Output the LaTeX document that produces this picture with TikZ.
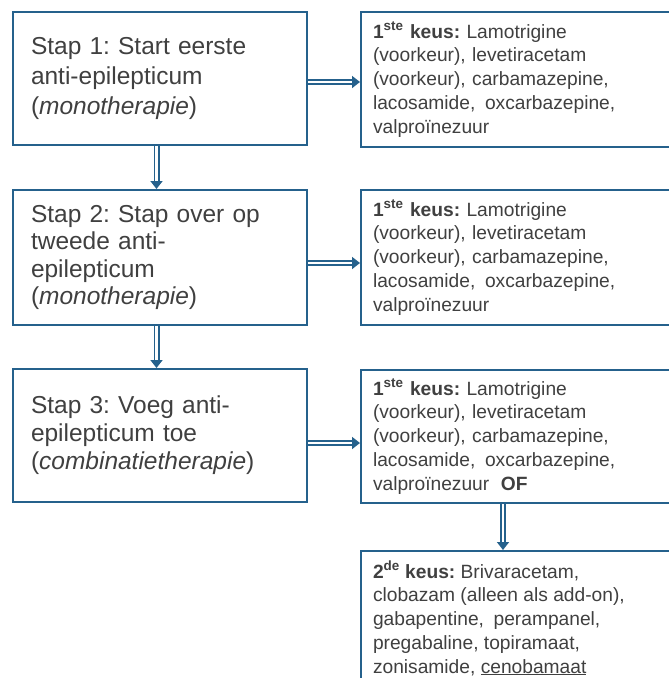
\documentclass[tikz,border=0pt]{standalone}
\usepackage{fontspec}
\setmainfont{Liberation Sans}
\usetikzlibrary{arrows.meta}
\definecolor{boxblue}{HTML}{25618C}
\definecolor{txtgray}{HTML}{404040}
\begin{document}
\frenchspacing
\begin{tikzpicture}[x=1pt,y=-1pt,
  stepbox/.style={draw=boxblue, line width=2pt, fill=white, rectangle, anchor=north west,
    inner xsep=18pt, inner ysep=0pt, text=txtgray, align=left, text width=258pt},
  choicebox/.style={draw=boxblue, line width=2pt, fill=white, rectangle, anchor=north west,
    inner xsep=12pt, inner ysep=0pt, text=txtgray, align=left, text width=300pt,
    font=\fontsize{19.2}{23.7}\selectfont},
  dblarrow/.style={draw=boxblue, double=white, double distance=2.6pt, line width=1.7pt,
    -{Triangle[length=8pt,width=12pt]}}]
\useasboundingbox (0,0) rectangle (669,678);
\clip (0,0) rectangle (669,678);
\fill[white] (0,0) rectangle (669,678);

\node[stepbox, minimum height=133pt, font=\fontsize{24.5}{30}\selectfont] (s1) at (12,11)
  {Stap 1: Start eerste\\anti-epilepticum\\(\textit{monotherapie})};
\node[stepbox, minimum height=135pt, font=\fontsize{24.5}{27.5}\selectfont] (s2) at (12,189)
  {Stap 2: Stap over op\\tweede anti-\\epilepticum\\(\textit{monotherapie})};
\node[stepbox, minimum height=133pt, font=\fontsize{24.5}{28}\selectfont] (s3) at (12,368)
  {Stap 3: Voeg anti-\\epilepticum toe\\(\textit{combinatietherapie})};

\node[choicebox, minimum height=135pt] (c1) at (360,11)
  {\textbf{1\textsuperscript{ste} keus:} Lamotrigine\\(voorkeur), levetiracetam\\(voorkeur), carbamazepine,\\lacosamide,\hspace{0.5em}oxcarbazepine,\\valproïnezuur};
\node[choicebox, minimum height=135pt] (c2) at (360,189)
  {\textbf{1\textsuperscript{ste} keus:} Lamotrigine\\(voorkeur), levetiracetam\\(voorkeur), carbamazepine,\\lacosamide,\hspace{0.5em}oxcarbazepine,\\valproïnezuur};
\node[choicebox, minimum height=133pt] (c3) at (360,369)
  {\textbf{1\textsuperscript{ste} keus:} Lamotrigine\\(voorkeur), levetiracetam\\(voorkeur), carbamazepine,\\lacosamide,\hspace{0.5em}oxcarbazepine,\\valproïnezuur\hspace{0.6em}\textbf{OF}};
\node[choicebox, text width=, inner xsep=12pt] (c4) at (360,550)
  {\parbox[b][150pt][t]{300pt}{\vspace*{10pt}\textbf{2\textsuperscript{de} keus:} Brivaracetam,\\clobazam (alleen als add-on),\\gabapentine,\hspace{0.5em}perampanel,\\pregabaline, topiramaat,\\zonisamide, \underline{cenobamaat}}};

\draw[dblarrow] ([yshift=-3.5pt]s1.east) -- ([yshift=-3.5pt]s1.east -| c1.west);
\draw[dblarrow] ([yshift=-5.5pt]s2.east) -- ([yshift=-5.5pt]s2.east -| c2.west);
\draw[dblarrow] ([yshift=-7.5pt]s3.east) -- ([yshift=-7.5pt]s3.east -| c3.west);
\draw[dblarrow] ([xshift=-3.5pt]s1.south) -- ([xshift=-3.5pt]s2.north);
\draw[dblarrow] ([xshift=-3.5pt]s2.south) -- ([xshift=-3.5pt]s3.north);
\draw[dblarrow] ([xshift=-20pt]c3.south) -- ([xshift=-20pt]c3.south |- c4.north);
\end{tikzpicture}
\end{document}
